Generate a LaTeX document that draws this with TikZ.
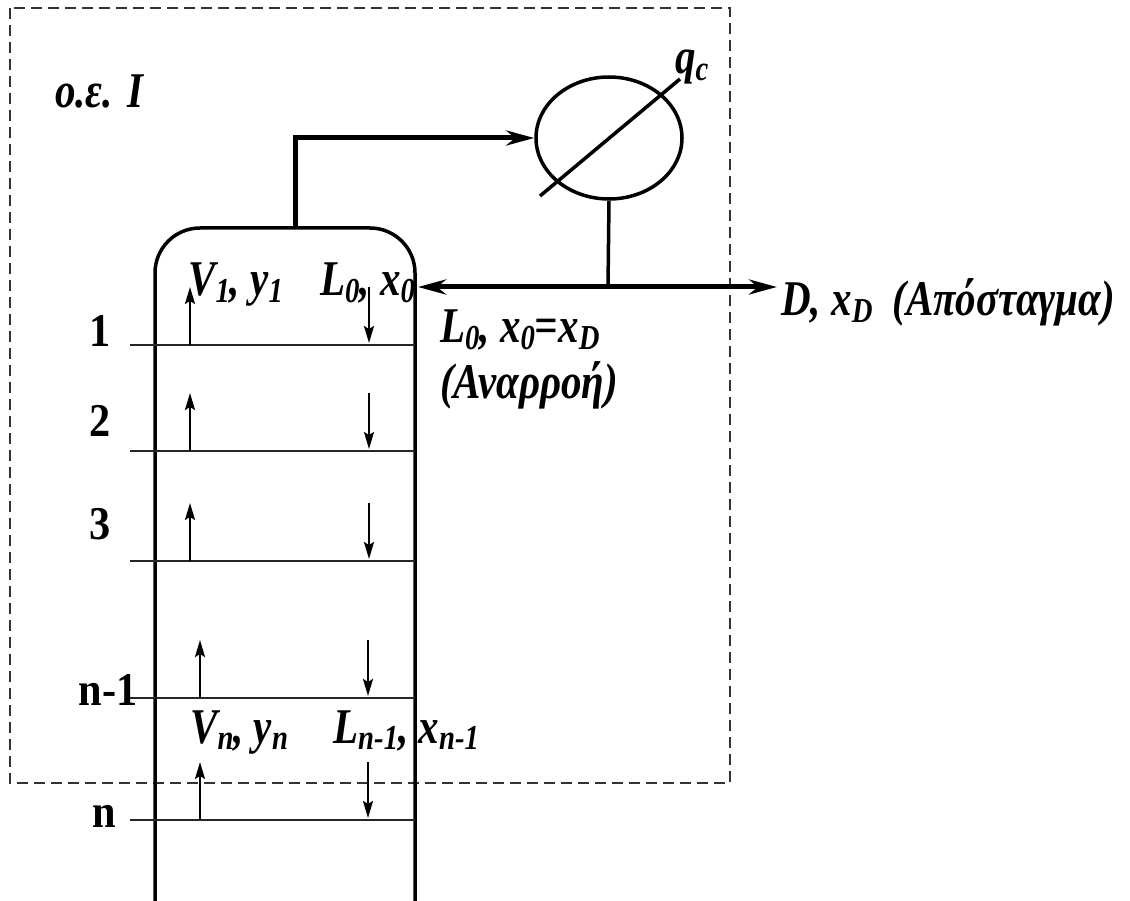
\documentclass[tikz,border=0pt]{standalone}
\usepackage{fontspec}
\setmainfont{Liberation Serif}
\newfontfamily\lblfont{Liberation Serif}[FakeStretch=0.82]
\newfontfamily\numfont{Liberation Serif}[FakeStretch=0.9]
\usetikzlibrary{arrows.meta,shapes.geometric}
\newcommand\lsub[1]{\raisebox{-0.3ex}{\fontsize{35}{35}\selectfont #1}}
\begin{document}
\begin{tikzpicture}[x=1pt,y=-1pt,
  lbl/.style={inner sep=0pt, anchor=base west, font=\lblfont\fontsize{50}{52}\selectfont\bfseries\itshape},
  num/.style={inner sep=0pt, font=\numfont\fontsize{47}{49}\selectfont\bfseries},
  pipe/.style={line width=5pt},
  wall/.style={line width=3.5pt},
  tray/.style={line width=2.5pt, black!85},
  flow/.style={line width=2.2pt, -{Stealth[length=17pt,width=10pt,inset=3pt]}},
  bigtip/.style={-{Stealth[length=28pt,width=15pt]}},
  boundary/.style={line width=1.5pt, dash pattern=on 11pt off 6pt, black!80}]
\useasboundingbox (0,0) rectangle (1130,901);
% system boundary
\draw[boundary] (10,8) rectangle (730,783);
% column
\draw[wall, rounded corners=45pt] (155,905) -- (155,228) -- (415,228) -- (415,905);
\coordinate (coltop) at (295,228);
% condenser
\node[draw, ellipse, line width=3.5pt, minimum width=146pt, minimum height=122pt, inner sep=0pt] (cond) at (609,138) {};
\coordinate (slashA) at (540,196);
\coordinate (slashB) at (680,79);
\draw[line width=3.5pt] (slashA) -- (slashB);
\draw[pipe, bigtip] (coltop) |- (cond.west);
\coordinate (junc) at (608,287);
\coordinate (refl) at (418,287);
\coordinate (dist) at (777,287);
\draw[line width=3.5pt] (cond.south) -- (junc);
\draw[pipe, bigtip] (junc) -- (refl);
\draw[pipe, bigtip] (junc) -- (dist);
% trays
\foreach \n/\y/\vx/\lx in {t1/345/190/369, t2/451/190/369, t3/561/190/369, tm/698/200/368, tn/820/200/368}{
  \coordinate (\n L) at (130,\y);
  \coordinate (\n R) at (415,\y);
  \coordinate (\n Vb) at (\vx,\y);
  \coordinate (\n Vt) at (\vx,\y-58);
  \coordinate (\n Lt) at (\lx,\y-58);
  \coordinate (\n Lb) at (\lx,\y-2);
  \draw[tray] (\n L) -- (\n R);
  \draw[flow] (\n Vb) -- (\n Vt);
  \draw[flow] (\n Lt) -- (\n Lb);
}
% tray numbers
\node[num] (n1) at (100,331) {1};
\node[num] (n2) at (100,421) {2};
\node[num] (n3) at (100,524) {3};
\node[num] (nm) at (108,690) {n-1};
\node[num] (nn) at (104,816) {n};
% labels
\node[lbl] (oe) at (55,108) {o.ε.\hspace{0.3em}I};
\node[lbl] (qc) at (675,74) {q\lsub{c}};
\node[lbl] (v1) at (188,296) {V\lsub{1}, y\lsub{1}};
\node[lbl] (l0) at (320,296) {L\lsub{0}, x\lsub{0}};
\node[lbl] (l0d) at (440,343) {L\lsub{0}, x\lsub{0}=x\lsub{D}};
\node[lbl] (anar) at (440,398) {(Αναρροή)};
\node[lbl] (dd) at (781,316) {D, x\lsub{D}\hspace{0.4em}(Απόσταγμα)};
\node[lbl] (vn) at (190,743) {V\lsub{n}, y\lsub{n}};
\node[lbl] (ln) at (333,743) {L\lsub{n-1}, x\lsub{n-1}};
\end{tikzpicture}
\end{document}
